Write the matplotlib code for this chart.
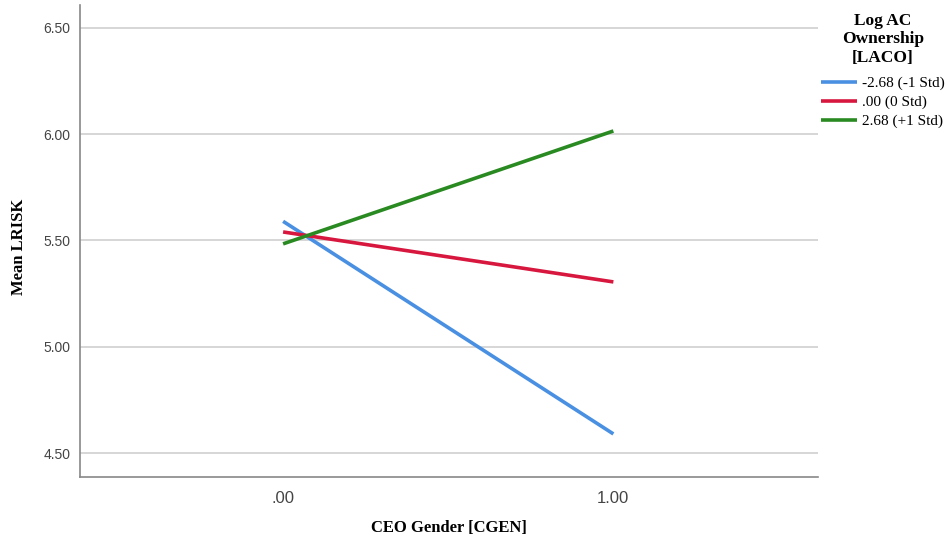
import matplotlib
matplotlib.use("Agg")
import matplotlib.pyplot as plt

# data
xvals = [0.0, 1.0]
xticklabels = [".00", "1.00"]
series_labels = ["-2.68 (-1 Std)", ".00 (0 Std)", "2.68 (+1 Std)"]
low_std = [5.59, 4.59]
zero_std = [5.54, 5.305]
high_std = [5.484, 6.015]
yticks = [4.50, 5.00, 5.50, 6.00, 6.50]
colors = ["#4a90e2", "#d8173f", "#2a8a22"]

fig = plt.figure(figsize=(9.5, 5.44), dpi=100)
ax = fig.add_axes([0.0842, 0.123, 0.777, 0.868])

for vals, lab, col in zip([low_std, zero_std, high_std], series_labels, colors):
    ax.plot(xvals, vals, color=col, lw=2.6, label=lab, solid_capstyle="butt")

ax.set_xlim(-0.615, 1.62)
ax.set_ylim(4.387, 6.608)
ax.set_xticks(xvals)
ax.set_xticklabels(xticklabels, fontfamily="Liberation Sans", fontsize=12, color="#444444")
ax.set_yticks(yticks)
ax.set_yticklabels(["%.2f" % v for v in yticks], fontfamily="Liberation Sans", fontsize=10, color="#444444")
ax.tick_params(length=0, pad=7)
ax.tick_params(axis="x", pad=10)
ax.yaxis.grid(True, color="#d0d0d0", lw=1.2)
ax.set_axisbelow(True)
for s in ["top", "right"]:
    ax.spines[s].set_visible(False)
for s in ["left", "bottom"]:
    ax.spines[s].set_color("#888888")
    ax.spines[s].set_linewidth(1.2)

ax.set_xlabel("CEO Gender [CGEN]", fontfamily="Liberation Serif", fontweight="bold", fontsize=12, labelpad=10)
ax.set_ylabel("Mean LRISK", fontfamily="Liberation Serif", fontweight="bold", fontsize=12)
ax.yaxis.set_label_coords(-0.072, 0.488)

leg = ax.legend(loc="upper left", bbox_to_anchor=(0.985, 1.012), frameon=False,
                title="Log AC\nOwnership\n[LACO]",
                prop={"family": "Liberation Serif", "size": 11},
                handlelength=2.4, handletextpad=0.3, labelspacing=0.35)
title = leg.get_title()
title.set_fontfamily("Liberation Serif")
title.set_fontweight("bold")
title.set_fontsize(12.5)
title.set_linespacing(1.2)
title.set_multialignment("center")
leg._legend_box.align = "center"
leg._legend_box.sep = 7.5

fig.savefig("out.png", dpi=100)
